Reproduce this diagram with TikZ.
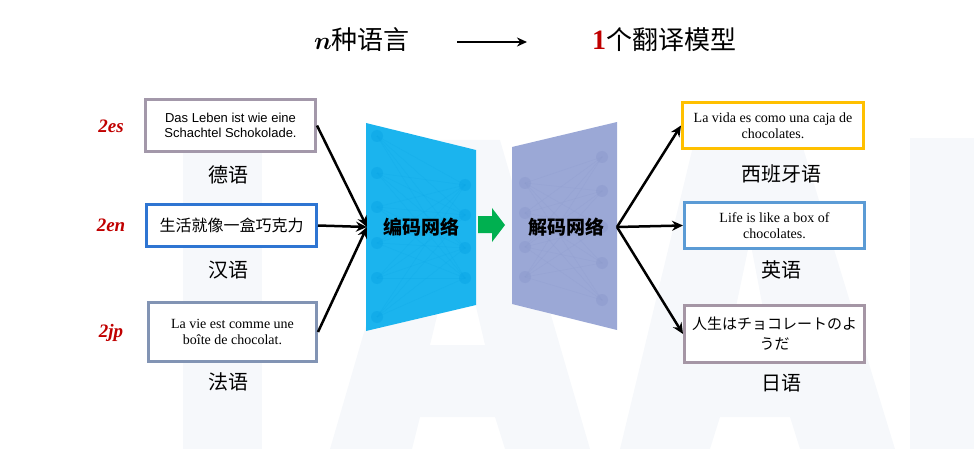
\documentclass[tikz,border=0pt]{standalone}
\usepackage{fontspec}
\setmainfont{Liberation Serif}
\newfontfamily\cjk{Noto Sans CJK SC}
\newfontfamily\cjkjp{Noto Sans CJK JP}
\newfontfamily\arial{Liberation Sans}
\usetikzlibrary{arrows.meta}
\definecolor{darkred}{RGB}{192,0,0}
\definecolor{encc}{RGB}{27,180,238}
\definecolor{encdot}{RGB}{10,165,230}
\definecolor{decc}{RGB}{155,168,214}
\definecolor{decdot}{RGB}{140,154,205}
\definecolor{greenarr}{RGB}{0,176,80}
\definecolor{wm}{RGB}{246,248,251}
\definecolor{cA}{RGB}{163,152,170}
\definecolor{cB}{RGB}{46,117,210}
\definecolor{cC}{RGB}{130,148,180}
\definecolor{cD}{RGB}{255,192,0}
\definecolor{cE}{RGB}{91,155,213}
\definecolor{cF}{RGB}{165,150,165}
\begin{document}
\begin{tikzpicture}[x=1pt,y=-1pt,
  box/.style={draw, line width=3pt, fill=white, inner sep=0pt, align=center},
  sansbox/.style={box, font=\arial\fontsize{13}{15}\selectfont},
  serifbox/.style={box, font=\fontsize{14}{16}\selectfont},
  lang/.style={font=\cjk\fontsize{20}{22}\selectfont, inner sep=0pt},
  tag/.style={font=\bfseries\itshape\fontsize{19}{21}\selectfont, text=darkred, inner sep=0pt},
  arr/.style={-{Stealth[length=11pt,width=10pt]}, line width=2.5pt},
  netlabel/.style={font=\cjk\bfseries\fontsize{19}{21}\selectfont, inner sep=0pt},
]
\useasboundingbox (0,0) rectangle (974,449);
% faint watermark
\fill[wm] (183,140) rectangle (262,449);
\fill[wm, even odd rule] (330,449) -- (420,140) -- (500,140) -- (590,449) -- (505,449) -- (495,417) -- (420,417) -- (412,449) -- cycle
  (430,345) -- (458,230) -- (485,345) -- cycle;
\fill[wm, even odd rule] (620,449) -- (695,138) -- (800,138) -- (895,449) -- (800,449) -- (790,417) -- (720,417) -- (710,449) -- cycle
  (728,345) -- (750,240) -- (770,345) -- cycle;
\fill[wm] (910,138) rectangle (974,449);

% title
\node[inner sep=0pt, font=\cjk\fontsize{26}{28}\selectfont] (t1) at (362,40) {{\fontsize{30}{30}\selectfont\boldmath$n$}种语言};
\node[inner sep=0pt, font=\cjk\fontsize{26}{28}\selectfont] (t2) at (664,40) {{\fontspec{Liberation Serif}\bfseries\fontsize{28}{28}\selectfont\color{darkred}1}个翻译模型};
\coordinate (ta) at (457,42);
\coordinate (tb) at (527,42);
\draw[-{Stealth[length=10pt,width=9pt]}, line width=2.2pt] (ta) -- (tb);

% encoder
\fill[encc] (366,123) -- (476,150) -- (476,305) -- (366,331) -- cycle;
\foreach \a in {136,173,207,243,278,317}
  \foreach \b in {185,215,248,278}
    \draw[encdot, opacity=0.25, line width=0.5pt] (377,\a) -- (465,\b);
\foreach \a in {136,173,207,243,278,317}
  \fill[encdot, opacity=0.5] (377,\a) circle (6);
\foreach \b in {185,215,248,278}
  \fill[encdot, opacity=0.5] (465,\b) circle (6);
\node[netlabel] (enc) at (421,227) {编码网络};

% decoder
\fill[decc] (512,147) -- (617,122) -- (617,330) -- (512,304) -- cycle;
\foreach \a in {183,213,247,277}
  \foreach \b in {157,191,227,263,300}
    \draw[decdot, opacity=0.3, line width=0.5pt] (525,\a) -- (602,\b);
\foreach \a in {183,213,247,277}
  \fill[decdot, opacity=0.5] (525,\a) circle (6);
\foreach \b in {157,191,227,263,300}
  \fill[decdot, opacity=0.5] (602,\b) circle (6);
\node[netlabel] (dec) at (566,227) {解码网络};

% green block arrow
\fill[greenarr] (478,216) -- (492,216) -- (492,208) -- (505,225) -- (492,242) -- (492,233) -- (478,233) -- cycle;

% left boxes
\node[sansbox, draw=cA, minimum width=170pt, minimum height=52pt] (b1) at (230.5,125.5) {Das Leben ist wie eine\\Schachtel Schokolade.};
\node[box, draw=cB, minimum width=170pt, minimum height=42pt, font=\cjk\fontsize{16}{18}\selectfont] (b2) at (231.5,225.5) {生活就像一盒巧克力};
\node[serifbox, draw=cC, minimum width=168pt, minimum height=59pt] (b3) at (232.5,332) {La vie est comme une\\boîte de chocolat.};

\node[lang] (l1) at (228,175) {德语};
\node[lang] (l2) at (228,270) {汉语};
\node[lang] (l3) at (228,382) {法语};

\node[tag] (g1) at (111,126) {2es};
\node[tag] (g2) at (111,225) {2en};
\node[tag] (g3) at (111,333) {2jp};

% right boxes
\node[serifbox, draw=cD, minimum width=181pt, minimum height=46pt] (b4) at (773,125.5) {La vida es como una caja de\\chocolates.};
\node[serifbox, draw=cE, minimum width=180pt, minimum height=46pt] (b5) at (774.5,225.5) {Life is like a box of\\chocolates.};
\node[box, draw=cF, minimum width=180pt, minimum height=57pt, font=\cjkjp\fontsize{15}{20}\selectfont] (b6) at (774.5,334) {人生はチョコレートのよ\\うだ};

\node[lang] (l4) at (781,174) {西班牙语};
\node[lang] (l5) at (781,270) {英语};
\node[lang] (l6) at (781,383) {日语};

% connectors
\coordinate (encin) at (367,227);
\coordinate (decout) at (617,227);
\draw[arr] (b1.east) -- (encin);
\draw[arr] (b2.east) -- (encin);
\draw[arr] (b3.east) -- (encin);
\draw[arr] (decout) -- (b4.west);
\draw[arr] (decout) -- (b5.west);
\draw[arr] (decout) -- (b6.west);
\end{tikzpicture}
\end{document}
